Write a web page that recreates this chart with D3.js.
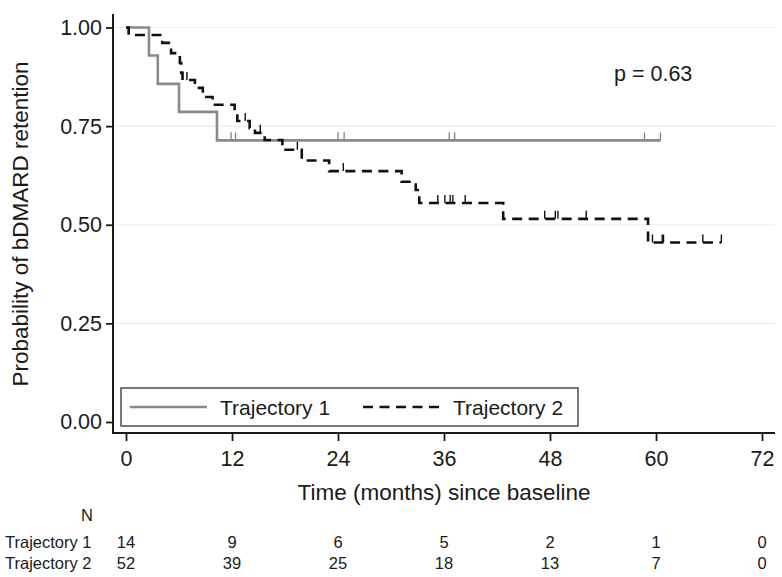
<!DOCTYPE html>
<html>
<head>
<meta charset="utf-8">
<script src="https://cdn.jsdelivr.net/npm/d3@7"></script>
<style>
  body { margin: 0; background: #fff; }
  text { font-family: "Liberation Sans", Arial, sans-serif; fill: #1a1a1a; }
</style>
</head>
<body>
<svg id="chart"></svg>
<script>
// values
const timeTicks = [0, 12, 24, 36, 48, 60, 72]
const probTicks = [0, 0.25, 0.5, 0.75, 1]
const seriesNames = ['Trajectory 1', 'Trajectory 2']

// Trajectory 1: event times and survival just after each step
const traj1Times = [0, 2.6, 3.6, 6.0, 10.3]
const traj1Surv = [1, 0.929, 0.857, 0.786, 0.714]
const traj1End = 60.5
const traj1Censor = [11.9, 12.4, 24.0, 24.7, 36.6, 37.2, 58.7, 60.5]

// Trajectory 2
const traj2Times = [0, 0.3, 4.1, 5.1, 6.1, 6.25, 6.4, 7.8, 8.7, 9.8, 12.3, 12.6,
  14.0, 14.6, 15.7, 17.7, 19.9, 23.0, 31.2, 32.8, 33.2, 42.7, 59.1]
const traj2Surv = [1, 0.981, 0.961, 0.935, 0.91, 0.885, 0.867, 0.847, 0.824, 0.804, 0.786, 0.763,
  0.745, 0.733, 0.715, 0.69, 0.663, 0.636, 0.609, 0.588, 0.555, 0.515, 0.455]
const traj2End = 67.4
const traj2Censor = [6.9, 13.5, 15.2, 19.4, 24.6, 35.3, 36.1, 36.7, 37.0, 38.4,
  47.4, 48.6, 48.9, 52.1, 59.6, 60.7, 60.85, 65.3, 67.4]

const atRisk1 = [14, 9, 6, 5, 2, 1, 0]
const atRisk2 = [52, 39, 25, 18, 13, 7, 0]
const pLabel = 'p = 0.63'

const width = 782, height = 577
const svg = d3.select('#chart').attr('width', width).attr('height', height)

const x = d3.scaleLinear().domain([0, 72]).range([126, 762])
const y = d3.scaleLinear().domain([0, 1]).range([422, 27.5])

// light grid
svg.append('g')
  .selectAll('line')
  .data(probTicks.filter((d) => d > 0))
  .enter()
  .append('line')
  .attr('x1', 114).attr('x2', 775)
  .attr('y1', (d) => y(d)).attr('y2', (d) => y(d))
  .attr('stroke', '#ececec')
  .attr('stroke-width', 1.2)

// y axis
const yAxis = svg.append('g')
  .attr('transform', 'translate(113,0)')
  .call(d3.axisLeft(y).tickValues(probTicks).tickFormat(d3.format('.2f')).tickSize(7).tickPadding(4))
yAxis.select('.domain').remove()
yAxis.selectAll('line').attr('stroke', '#1a1a1a').attr('stroke-width', 1.8)
yAxis.selectAll('text').style('font-size', '21.5px').attr('fill', '#1a1a1a')
  .style('font-family', '"Liberation Sans", Arial, sans-serif')

// x axis
const xAxis = svg.append('g')
  .attr('transform', 'translate(0,433)')
  .call(d3.axisBottom(x).tickValues(timeTicks).tickSize(8).tickPadding(10))
xAxis.select('.domain').remove()
xAxis.selectAll('line').attr('stroke', '#1a1a1a').attr('stroke-width', 1.8)
xAxis.selectAll('text').style('font-size', '21.5px').attr('fill', '#1a1a1a')
  .style('font-family', '"Liberation Sans", Arial, sans-serif')

svg.append('line').attr('x1', 113).attr('x2', 113).attr('y1', 14).attr('y2', 434)
  .attr('stroke', '#1a1a1a').attr('stroke-width', 2)
svg.append('line').attr('x1', 112).attr('x2', 775).attr('y1', 433).attr('y2', 433)
  .attr('stroke', '#1a1a1a').attr('stroke-width', 2)

// axis titles
svg.append('text')
  .attr('x', 444).attr('y', 500)
  .attr('text-anchor', 'middle')
  .style('font-size', '22.5px')
  .text('Time (months) since baseline')

svg.append('text')
  .attr('transform', 'translate(28,224) rotate(-90)')
  .attr('text-anchor', 'middle')
  .style('font-size', '22.5px')
  .text('Probability of bDMARD retention')

// curves
const stepLine = d3.line()
  .x((d) => x(d[0]))
  .y((d) => y(d[1]))
  .curve(d3.curveStepAfter)

function survAt(times, surv, t) {
  const i = d3.bisectRight(times, t) - 1
  return surv[Math.max(i, 0)]
}

const curves = [
  {times: traj1Times, surv: traj1Surv, end: traj1End, censor: traj1Censor, color: '#8a8a8a', dash: null},
  {times: traj2Times, surv: traj2Surv, end: traj2End, censor: traj2Censor, color: '#111', dash: '10,6.5'},
]

curves.forEach((c) => {
  const pts = c.times.map((t, i) => [t, c.surv[i]])
  pts.push([c.end, c.surv[c.surv.length - 1]])
  svg.append('path')
    .attr('d', stepLine(pts))
    .attr('fill', 'none')
    .attr('stroke', c.color)
    .attr('stroke-width', 2.6)
    .attr('stroke-dasharray', c.dash)

  svg.append('g')
    .selectAll('line')
    .data(c.censor)
    .enter()
    .append('line')
    .attr('x1', (d) => x(d)).attr('x2', (d) => x(d))
    .attr('y1', (d) => y(survAt(c.times, c.surv, d)))
    .attr('y2', (d) => y(survAt(c.times, c.surv, d)) - 8)
    .attr('stroke', c.color)
    .attr('stroke-width', 1.4)
})

// p value
svg.append('text')
  .attr('x', 614).attr('y', 81)
  .style('font-size', '21.5px')
  .text(pLabel)

// legend
const legend = svg.append('g')
legend.append('rect')
  .attr('x', 121).attr('y', 388).attr('width', 457).attr('height', 38)
  .attr('fill', '#fff').attr('stroke', '#333').attr('stroke-width', 1.3)
const legendItems = [
  {x0: 130, x1: 207, tx: 220, color: '#8a8a8a', dash: null},
  {x0: 363, x1: 441, tx: 453, color: '#111', dash: '10,6.5'},
]
legendItems.forEach((d, i) => {
  legend.append('line')
    .attr('x1', d.x0).attr('x2', d.x1).attr('y1', 407).attr('y2', 407)
    .attr('stroke', d.color).attr('stroke-width', 2.6)
    .attr('stroke-dasharray', d.dash)
  legend.append('text')
    .attr('x', d.tx).attr('y', 415)
    .style('font-size', '21px')
    .text(seriesNames[i])
})

// number at risk table
svg.append('text')
  .attr('x', 93).attr('y', 521)
  .attr('text-anchor', 'end')
  .style('font-size', '16.5px')
  .text('N')

const riskRows = [atRisk1, atRisk2]
riskRows.forEach((row, r) => {
  const yy = 548 + r * 20.5
  svg.append('text')
    .attr('x', 5).attr('y', yy)
    .style('font-size', '16.5px')
    .text(seriesNames[r])
  svg.append('g')
    .selectAll('text')
    .data(row)
    .enter()
    .append('text')
    .attr('x', (d, i) => x(timeTicks[i]))
    .attr('y', yy)
    .attr('text-anchor', 'middle')
    .style('font-size', '16.5px')
    .text((d) => d)
})
</script>
</body>
</html>
